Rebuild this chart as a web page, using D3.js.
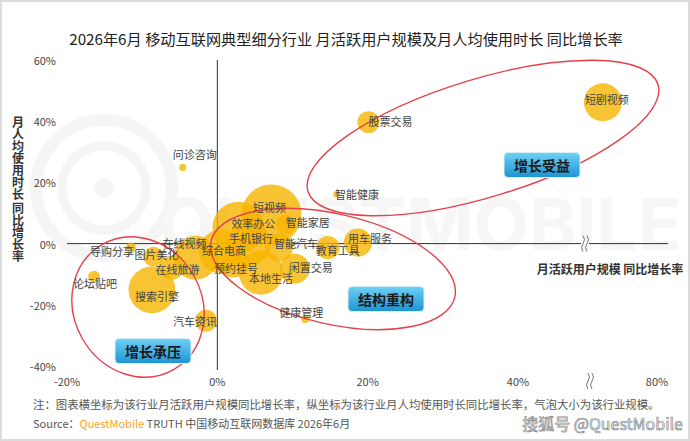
<!DOCTYPE html>
<html lang="zh">
<head>
<meta charset="utf-8">
<title>月活跃用户规模及月人均使用时长 同比增长率</title>
<script src="https://cdnjs.cloudflare.com/ajax/libs/d3/7.8.5/d3.min.js"></script>
<style>
  html, body { margin: 0; padding: 0; background: #fff; }
  svg { display: block; font-family: "Noto Sans CJK SC", "Noto Sans", sans-serif; }
</style>
</head>
<body>
<svg id="chart" width="690" height="441"></svg>
<script>
// industry names
var categories = ["短剧视频", "股票交易", "智能健康", "问诊咨询", "短视频", "效率办公", "手机银行",
                  "综合电商", "智能家居", "智能汽车", "教育工具", "用车服务", "闲置交易", "本地生活",
                  "预约挂号", "健康管理", "在线视频", "图片美化", "在线旅游", "导购分享", "论坛贴吧",
                  "搜索引擎", "汽车资讯"];
// MAU YoY growth (%)
var mauGrowth  = [56.7, 20.1, 15.8, -4.6, 7.2, 2.8, 4.2,
                  0.5, 9.1, 8.2, 14.7, 18.7, 10.3, 5.8,
                  2.1, 11.7, -2.9, -8.5, -6.1, -11.5, -16.4,
                  -8.7, -1.5];
// monthly time per user YoY growth (%)
var timeGrowth = [46.2, 39.7, 16.1, 24.9, 9.5, 5.2, 0.0,
                  -2.6, 6.2, -1.3, -1.3, 0.3, -8.2, -9.5,
                  -5.9, -24.6, -4.6, -4.3, -7.9, -1.3, -10.8,
                  -15.1, -25.2];
// industry scale (bubble size)
var scaleSize  = [4.0, 1.34, 0.1, 0.14, 10, 7.5, 5.4,
                  5.4, 1.1, 2.2, 1.5, 2.2, 2.5, 5.4,
                  2.8, 0.18, 5.4, 1.1, 1.6, 0.28, 0.4,
                  6.1, 1.34];

var xTicks = [-20, 0, 20, 40, 80];
var yTicks = [-40, -20, 0, 20, 40, 60];
var groupNames = ["增长受益", "结构重构", "增长承压"];

// label placement relative to bubble centre (px)
var labelOffset = {
  "短剧视频": [4, -3], "股票交易": [22, -1], "智能健康": [21, 0], "问诊咨询": [12, -13],
  "短视频": [-2, -8], "效率办公": [15, -5], "手机银行": [2, -6], "综合电商": [3, -2],
  "智能家居": [22, -3], "智能汽车": [17, -5], "教育工具": [10, 2], "用车服务": [12, -5],
  "闲置交易": [16, -2], "本地生活": [10, 5], "预约挂号": [3, 6], "健康管理": [-4, -7],
  "在线视频": [-11, -15], "图片美化": [3, -3], "在线旅游": [6, 1], "导购分享": [-19, 3],
  "论坛贴吧": [1, 6], "搜索引擎": [5, 6], "汽车资讯": [-11, 0]
};

var data = categories.map(function(c, i) {
  return { name: c, x: mauGrowth[i], y: timeGrowth[i], s: scaleSize[i] };
});

var svg = d3.select("#chart");

// broken x scale: compressed after the break at 49%
var x = d3.scaleLinear().domain([-20, 40, 49, 80]).range([67, 518, 585, 657]);
var y = d3.scaleLinear().domain([-40, 60]).range([366, 60]);
var r = d3.scaleSqrt().domain([0, 10]).range([0, 30]);

// frame
svg.append("rect").attr("x", 1).attr("y", 1).attr("width", 688).attr("height", 439)
  .attr("fill", "#fff").attr("stroke", "#dcdcdc").attr("stroke-width", 2);

// faint watermark
var wm = svg.append("g").attr("fill", "none").attr("stroke", "#f5f5f5");
wm.append("circle").attr("cx", 104).attr("cy", 188).attr("r", 68).attr("stroke-width", 12);
wm.append("circle").attr("cx", 104).attr("cy", 188).attr("r", 42).attr("stroke-width", 9);
wm.append("circle").attr("cx", 104).attr("cy", 188).attr("r", 10).attr("fill", "#f5f5f5").attr("stroke", "none");
svg.append("text").attr("x", 420).attr("y", 250).attr("text-anchor", "middle")
  .attr("font-family", "Inter, 'DejaVu Sans', sans-serif").attr("font-weight", 700)
  .attr("font-size", 72).attr("fill", "#f6f6f6").text("QUESTMOBILE");

// title
svg.append("text").attr("x", 346).attr("y", 45).attr("text-anchor", "middle")
  .attr("font-size", 15.2).attr("fill", "#222")
  .text("2026年6月 移动互联网典型细分行业 月活跃用户规模及月人均使用时长 同比增长率");

// axes lines
svg.append("line").attr("x1", x(0)).attr("x2", x(0)).attr("y1", y(60)).attr("y2", y(-40) + 4)
  .attr("stroke", "#333").attr("stroke-width", 1);
svg.append("line").attr("x1", x(-20)).attr("x2", 668).attr("y1", y(0)).attr("y2", y(0))
  .attr("stroke", "#333").attr("stroke-width", 1);

// tick labels
svg.append("g").selectAll("text").data(yTicks).join("text")
  .attr("x", 56).attr("y", function(d) { return y(d); }).attr("text-anchor", "end")
  .attr("dominant-baseline", "central").attr("font-size", 11).attr("fill", "#444")
  .text(function(d) { return d + "%"; });
svg.append("g").selectAll("text").data(xTicks).join("text")
  .attr("x", function(d) { return x(d); }).attr("y", 381).attr("text-anchor", "middle")
  .attr("dominant-baseline", "central").attr("font-size", 11).attr("fill", "#444")
  .text(function(d) { return d + "%"; });

// axis break marks
function breakMark(cx, cy) {
  var g = svg.append("g");
  g.append("rect").attr("x", cx - 4).attr("y", cy - 2).attr("width", 8).attr("height", 4).attr("fill", "#fff");
  [-2, 2].forEach(function(o) {
    g.append("path")
      .attr("d", "M" + (cx + o) + "," + (cy - 8) + " q3,4 0,8 q-3,4 0,8")
      .attr("fill", "none").attr("stroke", "#666").attr("stroke-width", 0.9);
  });
}
breakMark(x(49), y(0));
breakMark(590, 381);

// bubbles, large first
var bubbles = data.slice().sort(function(a, b) { return b.s - a.s; });
svg.append("g").selectAll("circle").data(bubbles).join("circle")
  .attr("cx", function(d) { return x(d.x); })
  .attr("cy", function(d) { return y(d.y); })
  .attr("r", function(d) { return r(d.s); })
  .attr("fill", "#F8B500").attr("fill-opacity", 0.8);

// group ellipses
var ellipses = [
  { cx: 483, cy: 138, rx: 183, ry: 59, rot: -17 },
  { cx: 333, cy: 269, rx: 125, ry: 55, rot: 13 },
  { cx: 138, cy: 307, rx: 72, ry: 64, rot: 60 }
];
svg.append("g").selectAll("ellipse").data(ellipses).join("ellipse")
  .attr("cx", 0).attr("cy", 0)
  .attr("rx", function(d) { return d.rx; }).attr("ry", function(d) { return d.ry; })
  .attr("transform", function(d) { return "translate(" + d.cx + "," + d.cy + ") rotate(" + d.rot + ")"; })
  .attr("fill", "none").attr("stroke", "#E5414B").attr("stroke-width", 1.4);

// bubble labels
svg.append("g").selectAll("text").data(data).join("text")
  .attr("x", function(d) { return x(d.x) + labelOffset[d.name][0]; })
  .attr("y", function(d) { return y(d.y) + labelOffset[d.name][1]; })
  .attr("text-anchor", "middle").attr("dominant-baseline", "central")
  .attr("font-size", 11).attr("fill", "#444")
  .text(function(d) { return d.name; });

// group badges
var defs = svg.append("defs");
var grad = defs.append("linearGradient").attr("id", "badge").attr("x1", 0).attr("y1", 0).attr("x2", 0).attr("y2", 1);
grad.append("stop").attr("offset", "0%").attr("stop-color", "#6FD0F5");
grad.append("stop").attr("offset", "100%").attr("stop-color", "#1E94D2");
var badgePos = [[542, 165], [386, 299], [153, 351]];
var badges = svg.append("g").selectAll("g").data(groupNames).join("g")
  .attr("transform", function(d, i) { return "translate(" + badgePos[i][0] + "," + badgePos[i][1] + ")"; });
badges.append("rect").attr("x", -38).attr("y", -12.5).attr("width", 76).attr("height", 25)
  .attr("rx", 4).attr("fill", "url(#badge)").attr("stroke", "#d6eef9").attr("stroke-width", 1);
badges.append("text").attr("text-anchor", "middle").attr("dominant-baseline", "central")
  .attr("font-size", 14).attr("font-weight", 700).attr("fill", "#1a1a1a")
  .text(function(d) { return d; });

// axis titles
svg.append("text").attr("x", 610).attr("y", 268).attr("text-anchor", "middle")
  .attr("dominant-baseline", "central").attr("font-size", 12).attr("font-weight", 700)
  .attr("fill", "#333").text("月活跃用户规模 同比增长率");

// vertical y title, one character per line
var yChars = [], yy = 121;
"月人均使用时长 同比增长率".split("").forEach(function(ch) {
  if (ch === " ") { yy += 2; }
  else { yChars.push({ ch: ch, y: yy }); yy += 12; }
});
svg.append("g").selectAll("text").data(yChars).join("text")
  .attr("x", 18).attr("y", function(d) { return d.y; })
  .attr("text-anchor", "middle").attr("dominant-baseline", "central")
  .attr("font-size", 12).attr("font-weight", 700).attr("fill", "#333")
  .text(function(d) { return d.ch; });

// footer
svg.append("text").attr("x", 33).attr("y", 409).attr("font-size", 11.4).attr("fill", "#555")
  .text("注：图表横坐标为该行业月活跃用户规模同比增长率，纵坐标为该行业月人均使用时长同比增长率，气泡大小为该行业规模。");
var src = svg.append("text").attr("x", 33).attr("y", 428).attr("font-size", 11).attr("fill", "#555");
src.append("tspan").text("Source：");
src.append("tspan").attr("fill", "#F5A623").text("QuestMobile");
src.append("tspan").text(" TRUTH 中国移动互联网数据库 2026年6月");

svg.append("text").attr("x", 683).attr("y", 430).attr("text-anchor", "end")
  .attr("font-size", 16).attr("fill", "#fff").attr("stroke", "#8a8a8a").attr("stroke-width", 0.7)
  .text("搜狐号 @QuestMobile");
</script>
</body>
</html>
